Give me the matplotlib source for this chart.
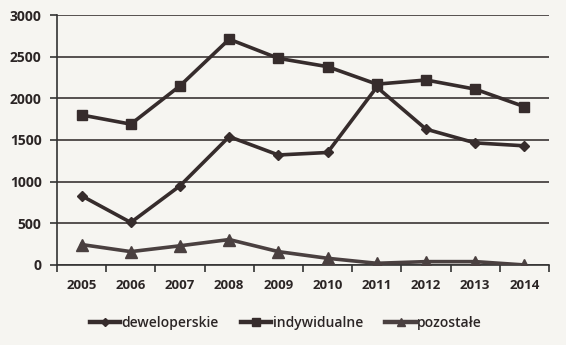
import numpy as np
import matplotlib.pyplot as plt

lata = ['2005', '2006', '2007', '2008', '2009', '2010', '2011', '2012', '2013', '2014']
deweloperskie = [830, 510, 950, 1540, 1320, 1350, 2135, 1630, 1465, 1430]
indywidualne = [1800, 1690, 2150, 2710, 2480, 2380, 2170, 2220, 2110, 1900]
pozostale = [245, 160, 230, 305, 160, 80, 20, 40, 40, 0]

plt.rcParams['font.family'] = ['Open Sans', 'DejaVu Sans']

fig = plt.figure(figsize=(5.66, 3.45), dpi=100, facecolor='#f6f5f1')
ax = fig.add_axes([0.1007, 0.232, 0.8693, 0.7245])
ax.set_facecolor('#f6f5f1')

x = np.arange(len(lata))
ax.plot(x, deweloperskie, color='#362c2c', lw=2.6, marker='D', ms=5.5,
        label='deweloperskie', zorder=3)
ax.plot(x, indywidualne, color='#362c2c', lw=2.6, marker='s', ms=7,
        label='indywidualne', zorder=3)
ax.plot(x, pozostale, color='#4a4040', lw=2.6, marker='^', ms=8,
        label='pozostałe', zorder=3)

ax.set_xlim(-0.5, len(lata) - 0.5)
ax.set_ylim(0, 3000)
ax.set_yticks(range(0, 3001, 500))
ax.set_xticks(x)
ax.set_xticklabels(lata)
ax.set_xticks(np.arange(-0.5, len(lata), 1), minor=True)
ax.tick_params(axis='x', which='major', length=0, pad=10)
ax.tick_params(axis='x', which='minor', length=5, width=1.2, color='#333333', direction='out')
ax.tick_params(axis='y', length=5, width=1.2, color='#333333', pad=6)
for lab in ax.get_xticklabels():
    lab.set_fontsize(9.5)
    lab.set_fontweight('bold')
    lab.set_color('#2b2525')
for lab in ax.get_yticklabels():
    lab.set_fontsize(10)
    lab.set_fontweight('bold')
    lab.set_color('#2b2525')

ax.grid(axis='y', color='#3a3434', lw=1.2, zorder=1)
for s in ['top', 'right']:
    ax.spines[s].set_visible(False)
for s in ['left', 'bottom']:
    ax.spines[s].set_color('#333333')
    ax.spines[s].set_linewidth(1.2)

leg = ax.legend(loc='upper center', bbox_to_anchor=(0.465, -0.155), ncol=3,
                frameon=False, fontsize=10, handlelength=2.2, handletextpad=0.1,
                columnspacing=1.6, markerscale=0.8)
for t in leg.get_texts():
    t.set_color('#2b2525')
    t.set_fontweight('semibold')
for h in leg.get_lines():
    h.set_linewidth(3.2)

fig.savefig('out.png', dpi=100, facecolor=fig.get_facecolor())
